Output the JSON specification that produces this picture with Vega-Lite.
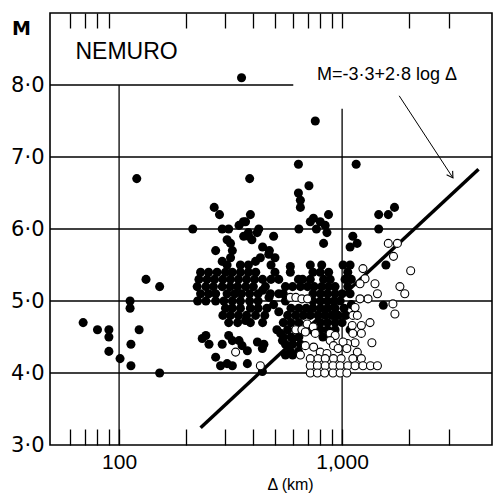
{
  "$schema": "https://vega.github.io/schema/vega-lite/v6.json",
  "width": 442,
  "height": 432,
  "autosize": {"type": "none"},
  "padding": {"left": 50, "top": 13, "right": 1, "bottom": 50},
  "background": "white",
  "config": {"view": {"stroke": "black", "strokeWidth": 1.6}, "font": "Liberation Sans"},
  "datasets": {
    "hgrid": [
      {"m": 4, "d": 49, "d2": 4700}, {"m": 5, "d": 49, "d2": 4700}, {"m": 6, "d": 49, "d2": 4700},
      {"m": 7, "d": 49, "d2": 4700}, {"m": 8, "d": 49, "d2": 604}
    ],
    "vgrid": [{"d": 100, "m": 3, "m2": 8}, {"d": 1000, "m": 3, "m2": 7.67}],
    "fit": [{"d": 232, "m": 3.24}, {"d": 4090, "m": 6.83}],
    "arrow": [{"d": 1803, "m": 7.85, "d2": 3140, "m2": 6.71}],
    "arrowhead": [{"d": 3140, "m": 6.71}],
    "notes": [
      {"d": 108, "m": 8.46, "label": "NEMURO", "kind": "station"},
      {"d": 1589, "m": 8.145, "label": "M=-3·3+2·8 log Δ", "kind": "formula"}
    ],
    "filled": [
      {"d":69,"m":4.7},{"d":80,"m":4.6},{"d":90,"m":4.6},{"d":90,"m":4.5},{"d":90,"m":4.3},{"d":101,"m":4.2},{"d":112,"m":5.0},{"d":112,"m":4.9},{"d":123,"m":4.6},{"d":113,"m":4.4},{"d":113,"m":4.1},{"d":152,"m":4.0},{"d":132,"m":5.3},{"d":152,"m":5.2},{"d":120,"m":6.7},{"d":354,"m":8.1},{"d":214,"m":6.0},{"d":267,"m":6.3},{"d":282,"m":6.2},{"d":385,"m":6.7},{"d":758,"m":7.5},{"d":637,"m":6.9},{"d":1156,"m":6.9},{"d":710,"m":6.6},{"d":637,"m":6.5},{"d":650,"m":6.4},{"d":650,"m":6.3},{"d":1459,"m":6.2},{"d":1611,"m":6.2},{"d":1718,"m":6.3},{"d":1459,"m":6.0},{"d":869,"m":6.2},{"d":640,"m":6.0},{"d":493,"m":5.9},{"d":826,"m":5.8},{"d":744,"m":6.15},{"d":798,"m":6.1},{"d":720,"m":6.1},{"d":767,"m":6.0},{"d":840,"m":6.05},{"d":855,"m":5.95},{"d":388,"m":6.2},{"d":361,"m":6.1},{"d":380,"m":5.95},{"d":423,"m":6.0},{"d":394,"m":5.85},{"d":472,"m":5.7},{"d":1117,"m":5.9},{"d":1168,"m":5.8},{"d":1086,"m":5.75},{"d":1572,"m":5.5},{"d":1530,"m":4.94},
      {"d":290,"m":6.0},{"d":310,"m":6.0},{"d":345,"m":6.05},{"d":369,"m":6.1},{"d":416,"m":5.95},{"d":381,"m":5.9},{"d":362,"m":5.9},{"d":469,"m":5.65},{"d":430,"m":5.6},{"d":409,"m":5.55},{"d":305,"m":5.85},{"d":316,"m":5.8},{"d":322,"m":5.7},{"d":316,"m":5.6},{"d":305,"m":5.5},{"d":271,"m":5.7},{"d":290,"m":5.55},{"d":440,"m":5.75},{"d":500,"m":5.6},{"d":480,"m":5.5},{"d":350,"m":5.5},{"d":380,"m":5.5},
      {"d":232,"m":5.4},{"d":252,"m":5.4},{"d":275,"m":5.4},{"d":300,"m":5.4},{"d":322,"m":5.4},{"d":350,"m":5.4},{"d":380,"m":5.4},{"d":410,"m":5.4},{"d":500,"m":5.4},
      {"d":228,"m":5.3},{"d":248,"m":5.3},{"d":268,"m":5.3},{"d":292,"m":5.3},{"d":316,"m":5.3},{"d":343,"m":5.3},{"d":373,"m":5.3},{"d":405,"m":5.3},{"d":440,"m":5.3},{"d":480,"m":5.3},{"d":520,"m":5.3},
      {"d":224,"m":5.2},{"d":245,"m":5.2},{"d":265,"m":5.2},{"d":290,"m":5.2},{"d":315,"m":5.2},{"d":340,"m":5.2},{"d":370,"m":5.2},{"d":400,"m":5.2},{"d":453,"m":5.2},
      {"d":232,"m":5.1},{"d":252,"m":5.1},{"d":271,"m":5.1},{"d":305,"m":5.1},{"d":330,"m":5.1},{"d":354,"m":5.1},{"d":385,"m":5.1},{"d":420,"m":5.1},{"d":477,"m":5.1},
      {"d":225,"m":5.0},{"d":245,"m":5.0},{"d":271,"m":5.0},{"d":295,"m":5.0},{"d":322,"m":5.0},{"d":350,"m":5.0},{"d":385,"m":5.0},{"d":420,"m":5.0},{"d":493,"m":4.95},
      {"d":300,"m":4.9},{"d":322,"m":4.9},{"d":350,"m":4.9},{"d":388,"m":4.9},{"d":420,"m":4.9},{"d":460,"m":4.9},
      {"d":292,"m":4.8},{"d":316,"m":4.8},{"d":343,"m":4.8},{"d":373,"m":4.8},{"d":409,"m":4.8},{"d":450,"m":4.8},
      {"d":310,"m":4.7},{"d":340,"m":4.7},{"d":369,"m":4.73},{"d":388,"m":4.7},{"d":440,"m":4.7},
      {"d":245,"m":4.52},{"d":236,"m":4.48},{"d":253,"m":4.4},{"d":310,"m":4.52},{"d":322,"m":4.45},{"d":290,"m":4.4},{"d":345,"m":4.45},{"d":356,"m":4.38},{"d":376,"m":4.31},{"d":417,"m":4.43},{"d":446,"m":4.4},{"d":439,"m":4.34},{"d":271,"m":4.22},{"d":285,"m":4.1},{"d":305,"m":4.13},{"d":322,"m":4.1},{"d":376,"m":4.13},{"d":439,"m":4.02},
      {"d":520,"m":4.85},{"d":530,"m":4.55},{"d":540,"m":4.45},{"d":510,"m":4.6},{"d":440,"m":5.15},{"d":470,"m":5.05},{"d":520,"m":5.1},{"d":586,"m":5.48},{"d":1086,"m":5.1},{"d":1100,"m":4.95},{"d":1086,"m":4.6},
      {"d":720,"m":5.5},{"d":810,"m":5.5},{"d":1010,"m":5.5},{"d":1086,"m":5.5},
      {"d":586,"m":5.4},{"d":740,"m":5.4},{"d":798,"m":5.4},{"d":870,"m":5.4},{"d":1060,"m":5.4},
      {"d":637,"m":5.3},{"d":665,"m":5.3},{"d":720,"m":5.3},{"d":826,"m":5.3},{"d":884,"m":5.3},{"d":1031,"m":5.3},{"d":1100,"m":5.3},
      {"d":557,"m":5.2},{"d":600,"m":5.2},{"d":650,"m":5.2},{"d":700,"m":5.2},{"d":750,"m":5.2},{"d":810,"m":5.2},{"d":870,"m":5.2},{"d":930,"m":5.2},{"d":1060,"m":5.2},
      {"d":545,"m":5.1},{"d":740,"m":5.1},{"d":800,"m":5.1},{"d":860,"m":5.1},{"d":930,"m":5.1},{"d":1000,"m":5.1},
      {"d":557,"m":5.0},{"d":740,"m":5.0},{"d":800,"m":5.0},{"d":860,"m":5.0},{"d":920,"m":5.0},{"d":980,"m":5.0},
      {"d":590,"m":4.9},{"d":640,"m":4.9},{"d":690,"m":4.9},{"d":740,"m":4.9},{"d":800,"m":4.9},{"d":860,"m":4.9},{"d":930,"m":4.9},{"d":1020,"m":4.9},
      {"d":570,"m":4.8},{"d":620,"m":4.8},{"d":670,"m":4.8},{"d":720,"m":4.8},{"d":780,"m":4.8},{"d":840,"m":4.8},{"d":900,"m":4.8},{"d":960,"m":4.8},{"d":1040,"m":4.8},
      {"d":545,"m":4.7},{"d":590,"m":4.7},{"d":640,"m":4.7},{"d":800,"m":4.7},{"d":860,"m":4.7},{"d":930,"m":4.7},{"d":1000,"m":4.7},
      {"d":570,"m":4.6},{"d":720,"m":4.6},{"d":800,"m":4.6},{"d":860,"m":4.6},{"d":930,"m":4.6},
      {"d":545,"m":4.5},{"d":590,"m":4.5},{"d":640,"m":4.5},{"d":820,"m":4.5},
      {"d":557,"m":4.4},{"d":600,"m":4.4},{"d":650,"m":4.4},
      {"d":586,"m":4.3},{"d":637,"m":4.3},
      {"d":557,"m":4.25},{"d":600,"m":4.25}
    ],
    "open": [
      {"d":1611,"m":5.8},{"d":1770,"m":5.8},{"d":1700,"m":5.62},{"d":2030,"m":5.42},{"d":1240,"m":5.45},{"d":1267,"m":5.31},{"d":1203,"m":5.24},{"d":1404,"m":5.24},{"d":1816,"m":5.2},{"d":1910,"m":5.1},{"d":1440,"m":5.1},{"d":1307,"m":5.03},{"d":1203,"m":5.03},{"d":1690,"m":4.96},{"d":1725,"m":4.82},{"d":1334,"m":4.7},
      {"d":1117,"m":4.8},{"d":1170,"m":4.8},{"d":1143,"m":4.91},{"d":1110,"m":4.66},{"d":1220,"m":4.66},{"d":1117,"m":4.55},{"d":1220,"m":4.55},{"d":1143,"m":4.42},{"d":1360,"m":4.42},{"d":1058,"m":4.41},{"d":1170,"m":4.29},
      {"d":586,"m":5.05},{"d":620,"m":5.05},{"d":660,"m":5.03},{"d":700,"m":5.03},{"d":620,"m":4.6},{"d":660,"m":4.6},{"d":697,"m":4.68},{"d":742,"m":4.64},{"d":684,"m":4.57},{"d":758,"m":4.55},{"d":884,"m":4.55},{"d":931,"m":4.52},{"d":884,"m":4.45},{"d":915,"m":4.38},{"d":1010,"m":4.43},{"d":684,"m":4.38},{"d":745,"m":4.36},{"d":798,"m":4.29},{"d":855,"m":4.27},{"d":650,"m":4.25},{"d":960,"m":4.34},{"d":1050,"m":4.34},{"d":333,"m":4.29},{"d":430,"m":4.1},
      {"d":720,"m":4.2},{"d":780,"m":4.2},{"d":840,"m":4.2},{"d":915,"m":4.2},{"d":990,"m":4.2},{"d":1117,"m":4.2},{"d":1220,"m":4.2},
      {"d":720,"m":4.1},{"d":775,"m":4.1},{"d":840,"m":4.1},{"d":910,"m":4.1},{"d":980,"m":4.1},{"d":1060,"m":4.1},{"d":1143,"m":4.1},{"d":1240,"m":4.1},{"d":1340,"m":4.1},{"d":1440,"m":4.1},
      {"d":720,"m":4.0},{"d":775,"m":4.0},{"d":835,"m":4.0},{"d":910,"m":4.0},{"d":980,"m":4.0},{"d":1050,"m":4.0}
    ]
  },
  "encoding": {
    "x": {"field": "d", "type": "quantitative", "scale": {"type": "log", "domain": [49, 4700], "nice": false}, "axis": null},
    "y": {
      "field": "m", "type": "quantitative",
      "scale": {"domain": [3, 9], "nice": false, "zero": false},
      "axis": {
        "values": [3, 4, 5, 6, 7, 8],
        "labelExpr": "replace(format(datum.value, '.1f'), '.', '·')",
        "grid": false, "ticks": false, "domain": false,
        "labelFontSize": 21, "labelFont": "DejaVu Sans", "labelColor": "black", "labelPadding": 6,
        "title": "M", "titleAngle": 0, "titleX": -29, "titleY": 15, "titleAlign": "center", "titleBaseline": "middle",
        "titleFontSize": 19, "titleFont": "DejaVu Sans", "titleFontWeight": "bold", "titleColor": "black"
      }
    }
  },
  "layer": [
    {
      "data": {"name": "hgrid"},
      "mark": {"type": "rule", "color": "black", "strokeWidth": 1.3},
      "encoding": {
        "x": {
          "field": "d", "type": "quantitative", "scale": {"type": "log", "domain": [49, 4700], "nice": false},
          "axis": {
            "orient": "bottom",
            "values": [60, 70, 80, 90, 100, 200, 300, 400, 500, 600, 700, 800, 900, 1000, 2000, 3000],
            "labelExpr": "datum.value == 100 ? '100' : datum.value == 1000 ? '1,000' : ''",
            "tickSize": -16, "tickColor": "black", "tickWidth": 1.3, "domain": false, "grid": false,
            "labelFontSize": 21, "labelColor": "black", "labelPadding": 22, "labelFlush": false, "labelOverlap": false,
            "title": "Δ  (km)", "titleFontSize": 16, "titleFontWeight": "normal", "titleColor": "black",
            "titleX": 240, "titleY": 44, "titleBaseline": "alphabetic", "titleAlign": "center"
          }
        },
        "x2": {"field": "d2"}
      }
    },
    {
      "data": {"name": "vgrid"},
      "mark": {"type": "rule", "color": "black", "strokeWidth": 1.3},
      "encoding": {
        "x": {
          "field": "d", "type": "quantitative", "scale": {"type": "log", "domain": [49, 4700], "nice": false},
          "axis": {
            "orient": "top",
            "values": [60, 70, 80, 90, 200, 300, 400, 500, 600, 700, 800, 900, 1000, 2000, 3000],
            "labels": false, "tickSize": -15, "tickColor": "black", "tickWidth": 1.3,
            "domain": false, "grid": false, "title": null
          }
        },
        "y2": {"field": "m2"}
      }
    },
    {
      "data": {"name": "fit"},
      "mark": {"type": "line", "color": "black", "strokeWidth": 3.5}
    },
    {
      "data": {"name": "arrow"},
      "mark": {"type": "rule", "color": "black", "strokeWidth": 1},
      "encoding": {"x2": {"field": "d2"}, "y2": {"field": "m2"}}
    },
    {
      "data": {"name": "arrowhead"},
      "mark": {"type": "point", "shape": "M -0.6 1 L 0 0 L 0.6 1", "filled": false, "stroke": "black", "strokeWidth": 1.1, "size": 144, "angle": 146.5, "opacity": 1}
    },
    {
      "data": {"name": "notes"},
      "transform": [{"filter": "datum.kind == 'station'"}],
      "mark": {"type": "text", "fontSize": 23, "font": "Liberation Sans", "align": "center", "baseline": "middle", "color": "black"},
      "encoding": {"text": {"field": "label"}}
    },
    {
      "data": {"name": "notes"},
      "transform": [{"filter": "datum.kind == 'formula'"}],
      "mark": {"type": "text", "fontSize": 18, "font": "Liberation Sans", "align": "center", "baseline": "middle", "color": "black"},
      "encoding": {"text": {"field": "label"}}
    },
    {
      "data": {"name": "filled"},
      "mark": {"type": "point", "shape": "circle", "filled": true, "color": "black", "size": 82, "opacity": 1}
    },
    {
      "data": {"name": "open"},
      "mark": {"type": "point", "shape": "circle", "filled": true, "fill": "white", "stroke": "black", "strokeWidth": 1.1, "size": 64, "opacity": 1}
    }
  ],
  "resolve": {"axis": {"x": "independent"}}
}
